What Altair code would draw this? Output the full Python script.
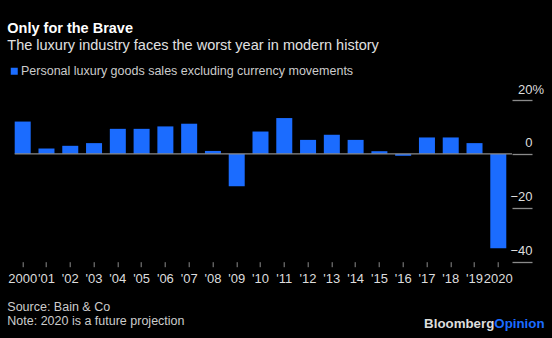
import altair as alt
import pandas as pd

# ---- data ----
YEAR_LABELS = ["2000", "'01", "'02", "'03", "'04", "'05", "'06", "'07", "'08", "'09",
               "'10", "'11", "'12", "'13", "'14", "'15", "'16", "'17", "'18", "'19", "2020"]
GROWTH = [12, 2, 3, 4, 9.3, 9.3, 10.2, 11.2, 1.1, -12, 8.3, 13.3, 5.2, 7.1, 5.2, 1, -0.7, 6.1, 6.1, 4, -35]
SERIES = "Personal luxury goods sales excluding currency movements"
Y_TICKS = [-40, -20, 0, 20]

TITLE = "Only for the Brave"
SUBTITLE = "The luxury industry faces the worst year in modern history"
SOURCE = "Source: Bain & Co"
NOTE = "Note: 2020 is a future projection"

FONT = "Liberation Sans"
BLUE = "#1b6cff"
GRAY = "#8a8a8a"

df = pd.DataFrame({"year": YEAR_LABELS, "value": GROWTH, "series": [SERIES] * len(GROWTH)})

W, H = 497.3, 161.7

x_enc = alt.X("year:N", sort=None, title=None,
              scale=alt.Scale(paddingInner=0.327, paddingOuter=0.12, align=0),
              axis=alt.Axis(orient="bottom", labelAngle=0, labelOverlap=False, labelBound=False,
                            domain=False, ticks=True, tickSize=5, tickColor=GRAY, tickWidth=1,
                            labelPadding=6, labelFontSize=13, labelColor="#dddddd", labelFont=FONT,
                            labelFlush=False))

y_scale = alt.Scale(domain=[-40, 20], nice=False)

bars = alt.Chart(df).mark_bar(size=16).encode(
    x=x_enc,
    y=alt.Y("value:Q", scale=y_scale, title=None,
            axis=alt.Axis(orient="right", values=Y_TICKS, grid=False, domain=False,
                          tickSize=20, tickColor=GRAY, tickWidth=1.3,
                          labelAlign="right", labelBaseline="alphabetic",
                          labelPadding={"condition": {"test": "datum.value == 20", "value": 11.6}, "value": 0},
                          labelOffset=-7, labelFontSize=13, labelColor="#dddddd", labelFont=FONT,
                          labelExpr="datum.value == 20 ? '20%' : datum.label")),
    color=alt.Color("series:N", scale=alt.Scale(range=[BLUE]),
                    legend=alt.Legend(orient="none", legendX=-6.7, legendY=-35, title=None,
                                      symbolType="square", symbolSize=49, symbolStrokeWidth=0,
                                      labelFontSize=12.5, labelColor="#cccccc", labelFont=FONT,
                                      labelOffset=0.5, padding=0, labelLimit=500)),
)

zero = alt.Chart(pd.DataFrame({"v": [0]})).mark_rule(color=GRAY, strokeWidth=1.3).encode(
    y=alt.Y("v:Q", scale=y_scale)
)

def txt(s, x, y, size, weight="normal", color="#dddddd", align="left"):
    return alt.Chart(pd.DataFrame({"t": [s]})).mark_text(
        align=align, baseline="alphabetic", fontSize=size, fontWeight=weight,
        color=color, font=FONT
    ).encode(x=alt.value(x), y=alt.value(y), text="t:N")

texts = [
    txt(TITLE, -7.4, -67, 14.5, "bold", "#ffffff"),
    txt(SUBTITLE, -7.4, -50, 14.5, "normal", "#e0e0e0"),
    txt(SOURCE, -7.4, 210.7, 12.5, "normal", "#cccccc"),
    txt(NOTE, -7.4, 225, 12.5, "normal", "#cccccc"),
    txt("Bloomberg", 479.6, 228.3, 13.3, "bold", "#dddddd", "right"),
    txt("Opinion", 479.6, 228.3, 13.3, "bold", BLUE, "left"),
]

chart = alt.layer(bars, zero, *texts).resolve_scale(y="shared").properties(
    width=W, height=H,
    autosize=alt.AutoSizeParams(type="none"),
    padding={"left": 14.7, "top": 100, "right": 40, "bottom": 76.3},
    background="#000000",
).configure_view(stroke=None)

chart.save("out.html", embed_options={"renderer": "svg", "actions": False})
